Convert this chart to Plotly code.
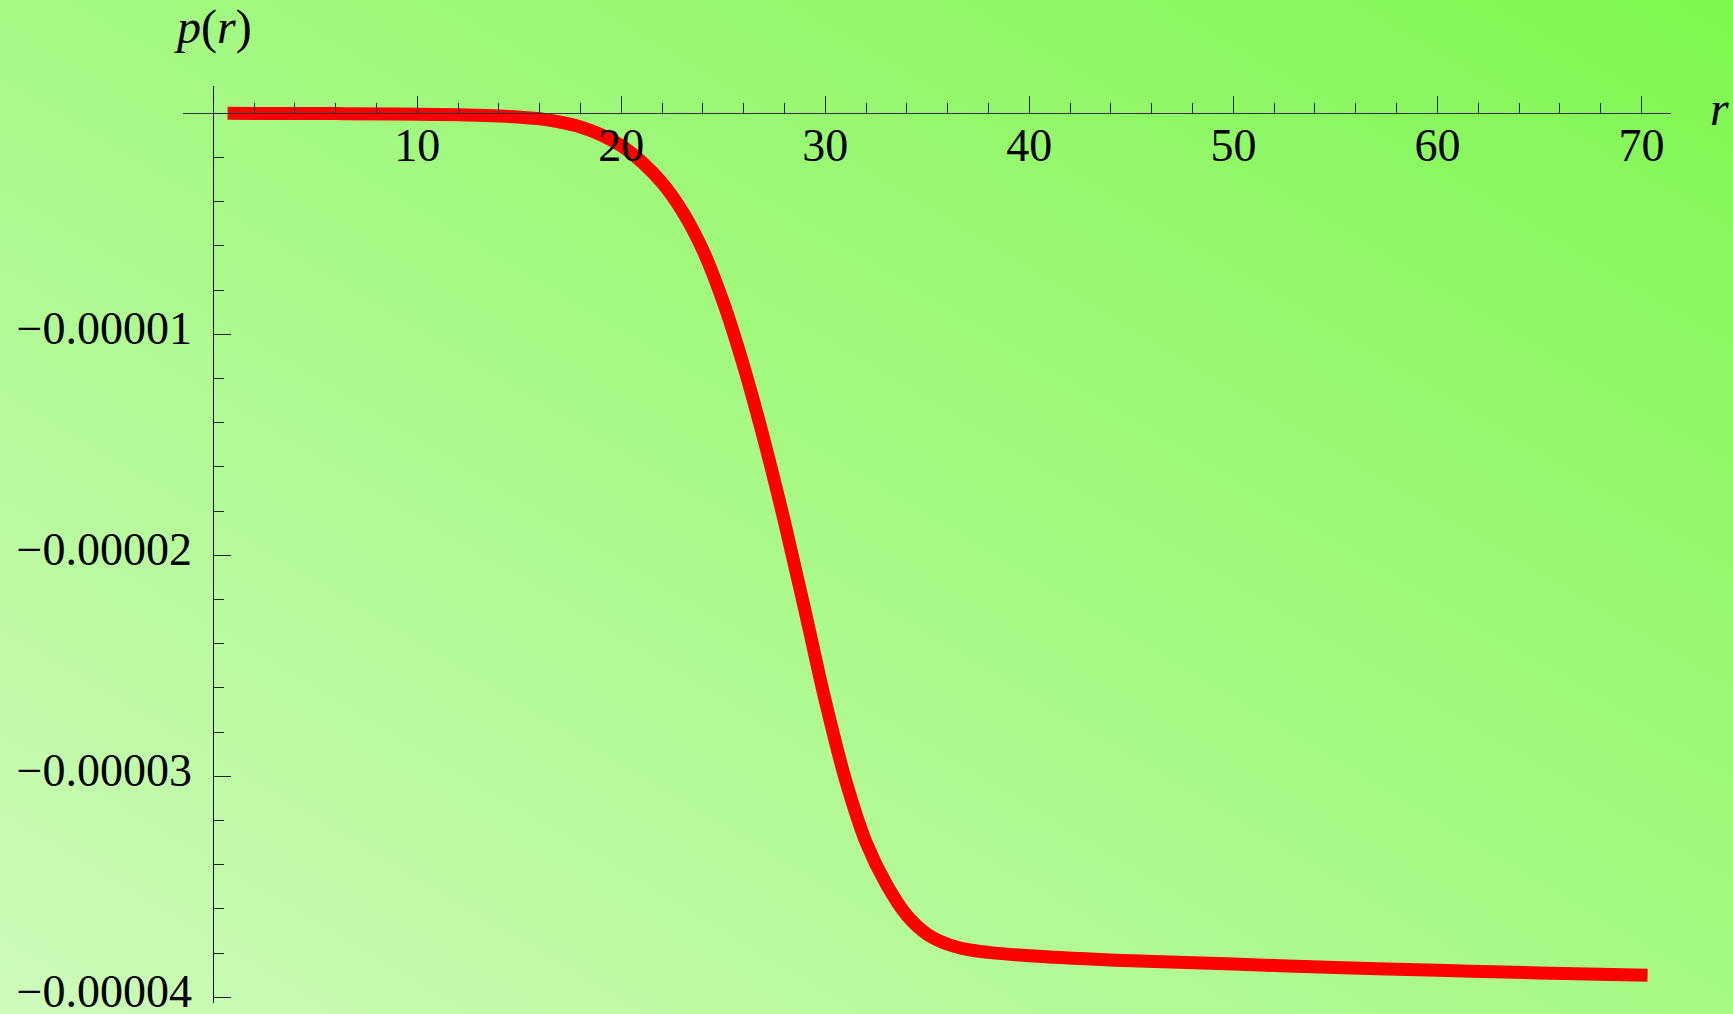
import base64
import plotly.graph_objects as go

# ---- data ----
r_vals = [0.7, 3, 6, 9, 12, 14, 16, 17, 18, 19, 20, 21, 22, 23, 24, 25, 26, 27,
          28, 29, 30, 31, 32, 33, 34, 35, 36, 37, 38, 40, 45, 50, 55, 60, 65, 70.3]
p_vals = [0.0, -0.01e-6, -0.015e-6, -0.03e-6, -0.07e-6, -0.12e-6, -0.25e-6, -0.40e-6,
          -0.62e-6, -0.97e-6, -1.47e-6, -2.2e-6, -3.15e-6, -4.45e-6, -6.2e-6, -8.55e-6,
          -11.45e-6, -14.8e-6, -18.5e-6, -22.5e-6, -26.6e-6, -30.2e-6, -33.0e-6,
          -34.9e-6, -36.3e-6, -37.15e-6, -37.6e-6, -37.85e-6, -37.97e-6, -38.12e-6,
          -38.35e-6, -38.5e-6, -38.65e-6, -38.78e-6, -38.9e-6, -39.0e-6]

x_tickvals = [10, 20, 30, 40, 50, 60, 70]
x_ticktext = ["10", "20", "30", "40", "50", "60", "70"]
y_tickvals = [-1e-5, -2e-5, -3e-5, -4e-5]
y_ticktext = ["\u22120.00001", "\u22120.00002", "\u22120.00003", "\u22120.00004"]

# ---- layout geometry ----
W, H = 1733, 1014
ML, MR, MT, MB = 183, 62, 86, 11
PW, PH = W - ML - MR, H - MT - MB
x_range = [-1.485, 71.45]
y_range = [-40.26e-6, 1.235e-6]
FONT = "Liberation Serif, Times New Roman, serif"

svg = ('<svg xmlns="http://www.w3.org/2000/svg" width="1793" height="1074" '
       'preserveAspectRatio="none" viewBox="0 0 1793 1074">'
       '<defs><linearGradient id="g" x1="0" y1="1" x2="1" y2="0">'
       '<stop offset="0" stop-color="#cffbbd"/><stop offset="1" stop-color="#7df74d"/>'
       '</linearGradient></defs><rect width="1793" height="1074" fill="url(#g)"/></svg>')
bg_src = "data:image/svg+xml;base64," + base64.b64encode(svg.encode()).decode()
EXT = 30

fig = go.Figure()
fig.add_trace(go.Scatter(
    x=r_vals, y=p_vals, mode="lines",
    line=dict(color="#ff0000", width=13, shape="spline", smoothing=1.0),
    hoverinfo="skip", showlegend=False,
))

x_pos = (0 - y_range[0]) / (y_range[1] - y_range[0])
y_pos = (0 - x_range[0]) / (x_range[1] - x_range[0])

fig.update_layout(
    width=W, height=H,
    margin=dict(l=ML, r=MR, t=MT, b=MB, pad=0, autoexpand=False),
    paper_bgcolor="#a6f985", plot_bgcolor="rgba(0,0,0,0)",
    font=dict(family=FONT, size=46, color="black"),
    images=[dict(source=bg_src, xref="paper", yref="paper",
                 x=-(ML + EXT) / PW, y=1 + (MT + EXT) / PH,
                 sizex=(W + 2 * EXT) / PW, sizey=(H + 2 * EXT) / PH,
                 xanchor="left", yanchor="top", sizing="stretch", layer="below")],
    xaxis=dict(
        range=x_range, showgrid=False, zeroline=False, automargin=False,
        showline=True, linecolor="#333333", linewidth=1.2,
        anchor="free", position=x_pos, side="bottom",
        tickmode="array", tickvals=x_tickvals, ticktext=x_ticktext,
        ticks="inside", ticklen=17, tickwidth=1, tickcolor="#222222",
        minor=dict(tickmode="linear", tick0=0, dtick=2, ticks="inside",
                   ticklen=10, tickwidth=1, tickcolor="#222222"),
        tickfont=dict(family=FONT, size=46, color="black"),
        ticklabelstandoff=-9, ticklabeloverflow="allow",
    ),
    yaxis=dict(
        range=y_range, showgrid=False, zeroline=False, automargin=False,
        showline=True, linecolor="#111111", linewidth=1.2,
        anchor="free", position=y_pos, side="left",
        tickmode="array", tickvals=y_tickvals, ticktext=y_ticktext,
        ticks="inside", ticklen=17, tickwidth=1, tickcolor="#222222",
        minor=dict(tickmode="linear", tick0=0, dtick=2e-6, ticks="inside",
                   ticklen=10, tickwidth=1, tickcolor="#222222"),
        tickfont=dict(family=FONT, size=46, color="black"),
        ticklabelstandoff=12, ticklabelshift=-6, ticklabeloverflow="allow",
    ),
    annotations=[
        dict(text="<i>p</i>(<i>r</i>)", xref="paper", yref="paper",
             x=(213 - ML) / PW, y=(H - MB - 27) / PH, xanchor="center", yanchor="middle",
             showarrow=False, font=dict(family=FONT, size=48, color="black")),
        dict(text="<i>r</i>", xref="paper", yref="paper",
             x=(1719 - ML) / PW, y=(H - MB - 108) / PH, xanchor="center", yanchor="middle",
             showarrow=False, font=dict(family=FONT, size=48, color="black")),
    ],
)

fig.write_html(
    "out.html", config={"displayModeBar": False},
    post_script=("document.documentElement.style.margin='0';"
                 "document.body.style.margin='0';document.body.style.overflow='hidden';"
                 "document.body.style.background='#a6f985';"))
